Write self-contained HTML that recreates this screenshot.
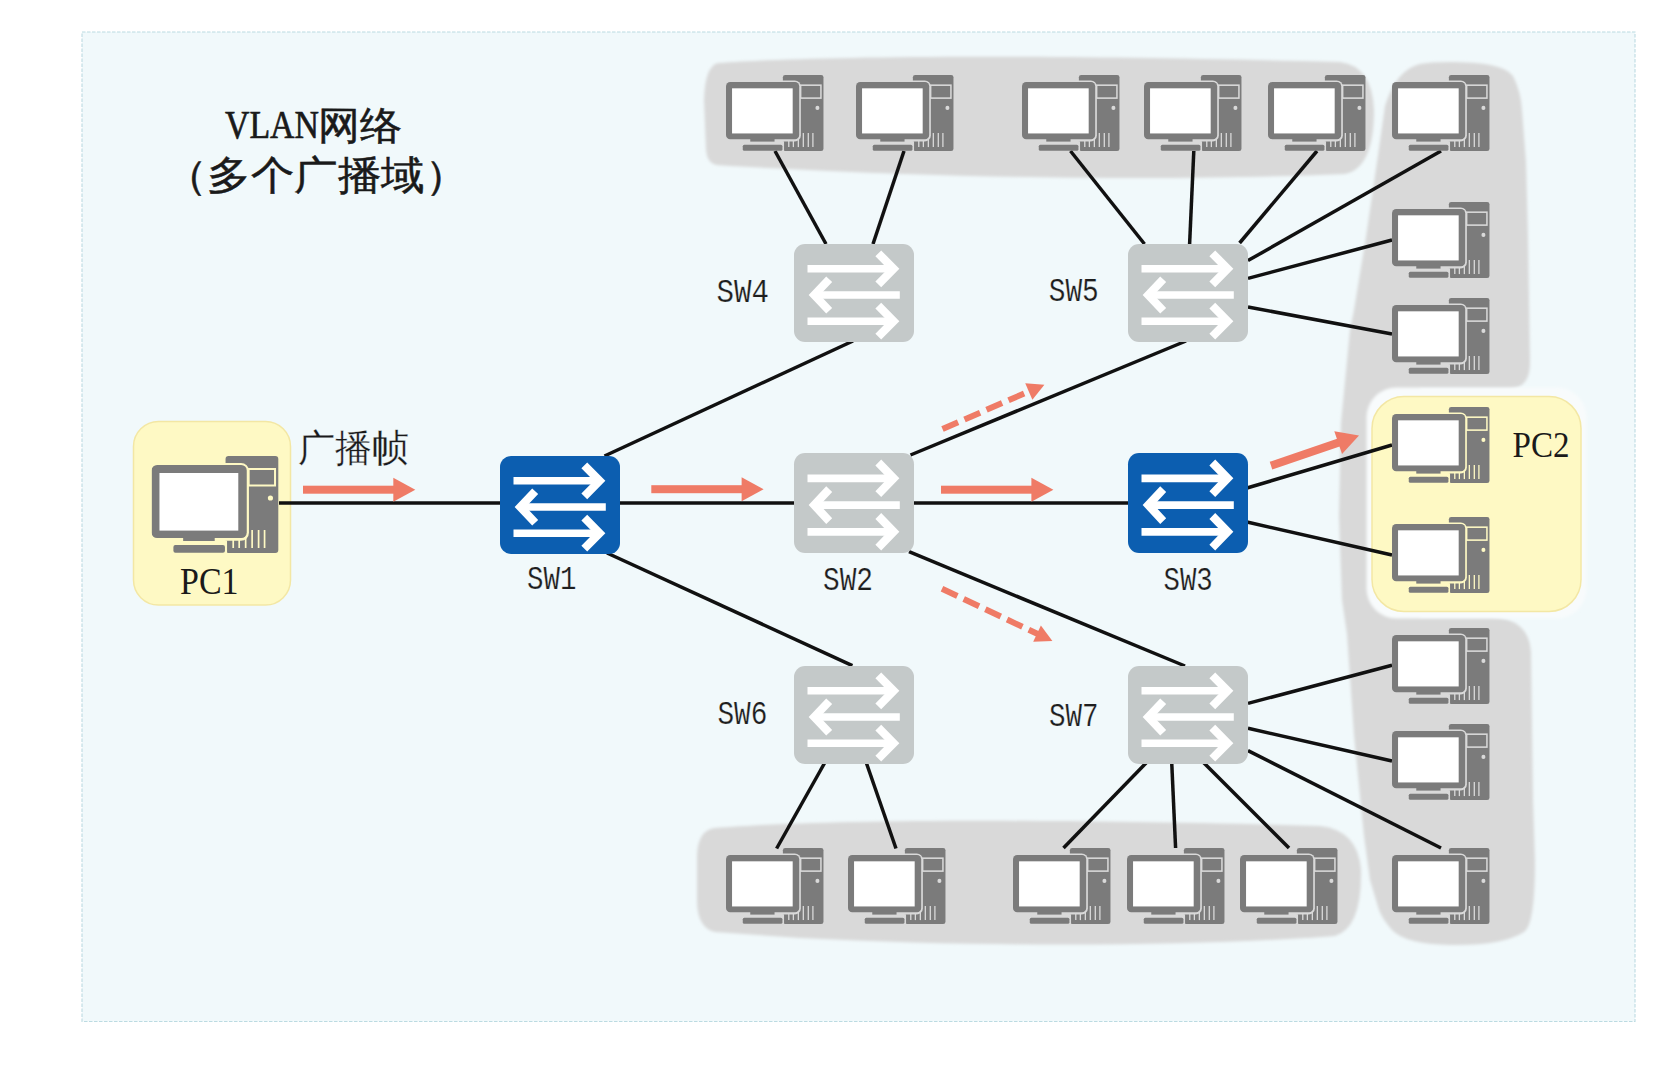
<!DOCTYPE html>
<html><head><meta charset="utf-8"><style>
html,body{margin:0;padding:0;background:#ffffff;}
svg{display:block;}
.lbl{font-family:"Liberation Mono",monospace;fill:#1e1e1e;stroke:#f1f9fb;stroke-width:0.2px;}
.ser{font-family:"Liberation Serif",serif;fill:#1a1a1a;}
</style></head><body>
<svg width="1667" height="1067" viewBox="0 0 1667 1067">
<defs>
<filter id="bl" x="-5%" y="-5%" width="110%" height="110%"><feGaussianBlur stdDeviation="1.6"/></filter>
<mask id="twm" maskUnits="userSpaceOnUse" x="0" y="0" width="128" height="97">
 <rect x="0" y="0" width="128" height="97" fill="#fff"/>
 <rect x="-2" y="7" width="99.8" height="77.8" rx="8" fill="#000"/>
 <rect x="18" y="84.5" width="57.8" height="14" fill="#000"/>
 <rect x="97.5" y="13" width="26.5" height="16.5" fill="none" stroke="#000" stroke-width="2"/>
 <circle cx="119.4" cy="42" r="2.6" fill="#000"/>
 <g stroke="#000" stroke-width="1.7">
  <line x1="82" y1="74" x2="82" y2="92"/>
  <line x1="88" y1="74" x2="88" y2="92"/>
  <line x1="94.5" y1="74" x2="94.5" y2="92"/>
  <line x1="101" y1="74" x2="101" y2="92"/>
  <line x1="107.5" y1="74" x2="107.5" y2="92"/>
  <line x1="113.5" y1="74" x2="113.5" y2="92"/>
 </g>
</mask>
<symbol id="pc" viewBox="0 0 128 97" preserveAspectRatio="none">
 <rect x="74.3" y="0" width="53" height="97" rx="3" fill="#7b7b7b" mask="url(#twm)"/>
 <rect x="0" y="9" width="95.6" height="73" rx="5.5" fill="#7b7b7b"/>
 <rect x="7.9" y="17" width="79.2" height="57.6" fill="#ffffff"/>
 <rect x="31.7" y="81" width="31.7" height="4" fill="#7b7b7b"/>
 <rect x="21.9" y="89" width="51.8" height="7.8" rx="2" fill="#7b7b7b"/>
</symbol>
<g id="arr" fill="none" stroke="#ffffff">
 <line x1="13.5" y1="24.8" x2="100" y2="24.8" stroke-width="7.6"/>
 <polyline points="84.3,9.3 99.6,24.8 84.3,40.3" stroke-width="8.2"/>
 <line x1="20" y1="51" x2="105.8" y2="51" stroke-width="7.6"/>
 <polyline points="35.2,35.3 20.3,51 35.2,66.7" stroke-width="8.2"/>
 <line x1="13.5" y1="77.2" x2="100" y2="77.2" stroke-width="7.6"/>
 <polyline points="84.3,61.7 99.6,77.2 84.3,92.7" stroke-width="8.2"/>
</g>
</defs>
<rect x="82" y="32" width="1553" height="989.5" fill="#f1f9fb" stroke="#bcdbe2" stroke-width="1.1" stroke-dasharray="3.5 1.5"/>

<g fill="#d9d9d9" filter="url(#bl)">
<path d="M718,63 C800,57 1000,53 1340,62 Q1372,66 1374,110 Q1374,168 1345,174 C1200,180 1000,181 730,166 L716,165 Q707,163 706,150 L704,100 Q705,66 718,63 Z"/>
<path d="M1448,62 C1485,62 1505,66 1513,76 Q1521,92 1522,110 L1526,162 L1528,237 L1530,360 Q1531,388 1509,389 L1420,389 L1420,617 L1492,617 Q1529,619 1531,652 L1533,800 L1535,862 Q1535,925 1524,932 Q1502,946 1450,945 Q1405,944 1392,930 Q1383,920 1379,910 L1370,880 L1364,836 L1354,735 L1347,634 L1342,600 L1339,516 L1341,423 L1350,330 L1354,310 L1366,237 L1377,162 L1385,106 Q1396,70 1420,64 Q1430,62 1448,62 Z"/>
<path d="M715,828 C800,821 1000,817 1320,826 Q1358,830 1361,870 Q1362,928 1335,936 C1200,946 1000,948 800,938 L715,932 Q697,928 697,900 L697,855 Q698,830 715,828 Z"/>
</g>
<rect x="1366.5" y="387.5" width="220" height="231" rx="30" fill="#f8fbfc" filter="url(#bl)"/>
<rect x="133.5" y="421.5" width="157" height="183.5" rx="25" fill="#fef9c4" stroke="#f3e7a4" stroke-width="1.5"/>
<rect x="1372" y="396.5" width="209" height="215" rx="32" fill="#fef9c4" stroke="#f3e7a4" stroke-width="1.5"/>
<g stroke="#111111" stroke-width="3.5">
<line x1="279" y1="503" x2="1128" y2="503"/>
<line x1="604.5" y1="456" x2="853" y2="341"/>
<line x1="607" y1="553" x2="852.4" y2="665.6"/>
<line x1="910.5" y1="455" x2="1186" y2="341"/>
<line x1="909" y1="551.7" x2="1185" y2="666"/>
<line x1="826" y1="244" x2="775" y2="151"/>
<line x1="873" y1="244" x2="904" y2="151"/>
<line x1="1144.5" y1="244" x2="1070.5" y2="151"/>
<line x1="1189.6" y1="244" x2="1193.8" y2="151"/>
<line x1="1239.6" y1="243" x2="1317" y2="151"/>
<line x1="1248" y1="260.6" x2="1441" y2="151"/>
<line x1="1248" y1="278.4" x2="1392" y2="240"/>
<line x1="1248" y1="307" x2="1392" y2="334"/>
<line x1="1247" y1="488" x2="1392" y2="445"/>
<line x1="1247" y1="522" x2="1392" y2="555"/>
<line x1="824.6" y1="763" x2="776.6" y2="848.5"/>
<line x1="866.4" y1="763" x2="896" y2="848.5"/>
<line x1="1147" y1="762" x2="1063.5" y2="848"/>
<line x1="1171.7" y1="762" x2="1175.6" y2="848"/>
<line x1="1203" y1="762" x2="1289" y2="848"/>
<line x1="1248" y1="703.4" x2="1392" y2="665.3"/>
<line x1="1248" y1="728.3" x2="1392" y2="761"/>
<line x1="1248" y1="750.6" x2="1441" y2="848"/>
</g>
<g transform="translate(500,456) scale(1,1.0000)"><rect width="120" height="98" rx="11" fill="#0c5eb0"/><use href="#arr"/></g>
<g transform="translate(794,453) scale(1,1.0204)"><rect width="120" height="98" rx="11" fill="#c4c9c9"/><use href="#arr"/></g>
<g transform="translate(1128,453) scale(1,1.0204)"><rect width="120" height="98" rx="11" fill="#0c5eb0"/><use href="#arr"/></g>
<g transform="translate(794,244) scale(1,1.0000)"><rect width="120" height="98" rx="11" fill="#c4c9c9"/><use href="#arr"/></g>
<g transform="translate(1128,244) scale(1,1.0000)"><rect width="120" height="98" rx="11" fill="#c4c9c9"/><use href="#arr"/></g>
<g transform="translate(794,666) scale(1,1.0000)"><rect width="120" height="98" rx="11" fill="#c4c9c9"/><use href="#arr"/></g>
<g transform="translate(1128,666) scale(1,1.0000)"><rect width="120" height="98" rx="11" fill="#c4c9c9"/><use href="#arr"/></g>
<use href="#pc" x="151.6" y="456" width="127.4" height="97"/>
<use href="#pc" x="726" y="75" width="98" height="76"/>
<use href="#pc" x="856" y="75" width="98" height="76"/>
<use href="#pc" x="1022" y="75" width="98" height="76"/>
<use href="#pc" x="1144" y="75" width="98" height="76"/>
<use href="#pc" x="1268" y="75" width="98" height="76"/>
<use href="#pc" x="1392" y="75" width="98" height="76"/>
<use href="#pc" x="1392" y="202" width="98" height="76"/>
<use href="#pc" x="1392" y="298" width="98" height="76"/>
<use href="#pc" x="1392" y="407" width="98" height="76"/>
<use href="#pc" x="1392" y="517" width="98" height="76"/>
<use href="#pc" x="1392" y="628" width="98" height="76"/>
<use href="#pc" x="1392" y="724" width="98" height="76"/>
<use href="#pc" x="1392" y="848" width="98" height="76"/>
<use href="#pc" x="726" y="848" width="98" height="76"/>
<use href="#pc" x="848" y="848" width="98" height="76"/>
<use href="#pc" x="1013" y="848" width="98" height="76"/>
<use href="#pc" x="1127" y="848" width="98" height="76"/>
<use href="#pc" x="1240" y="848" width="98" height="76"/>
<g transform="translate(303,489.7) rotate(0.000)"><rect x="0" y="-4.0" width="91.30000000000001" height="8" fill="#ef7b66"/><path d="M90.30000000000001,-12 L112.30000000000001,0 L90.30000000000001,12 Z" fill="#ef7b66"/></g>
<g transform="translate(651.3,489.2) rotate(0.000)"><rect x="0" y="-4.0" width="91.30000000000007" height="8" fill="#ef7b66"/><path d="M90.30000000000007,-12 L112.30000000000007,0 L90.30000000000007,12 Z" fill="#ef7b66"/></g>
<g transform="translate(941,489.7) rotate(0.000)"><rect x="0" y="-4.0" width="91.40000000000009" height="8" fill="#ef7b66"/><path d="M90.40000000000009,-12 L112.40000000000009,0 L90.40000000000009,12 Z" fill="#ef7b66"/></g>
<g transform="translate(1271,465.6) rotate(-18.825)"><rect x="0" y="-4.0" width="71.97311439335567" height="8" fill="#ef7b66"/><path d="M70.97311439335567,-12 L92.97311439335567,0 L70.97311439335567,12 Z" fill="#ef7b66"/></g>
<g transform="translate(942.5,429) rotate(-23.497)"><line x1="0" y1="0" x2="96.11300553940578" y2="0" stroke="#ef7b66" stroke-width="6" stroke-dasharray="17 7"/><path d="M94.11300553940578,-9 L111.11300553940578,0 L94.11300553940578,9 Z" fill="#ef7b66"/></g>
<g transform="translate(942,588.7) rotate(25.348)"><line x1="0" y1="0" x2="107.16157333629923" y2="0" stroke="#ef7b66" stroke-width="6" stroke-dasharray="17 7"/><path d="M105.16157333629923,-9 L122.16157333629923,0 L105.16157333629923,9 Z" fill="#ef7b66"/></g>
<text class="lbl" x="527" y="589" font-size="33" textLength="49.39999999999998" lengthAdjust="spacingAndGlyphs">SW1</text>
<text class="lbl" x="823" y="590" font-size="33" textLength="50" lengthAdjust="spacingAndGlyphs">SW2</text>
<text class="lbl" x="1163.5" y="590" font-size="33" textLength="49.200000000000045" lengthAdjust="spacingAndGlyphs">SW3</text>
<text class="lbl" x="716.5" y="302" font-size="33" textLength="52.5" lengthAdjust="spacingAndGlyphs">SW4</text>
<text class="lbl" x="1048.7" y="301" font-size="33" textLength="50.09999999999991" lengthAdjust="spacingAndGlyphs">SW5</text>
<text class="lbl" x="717.4" y="724.4" font-size="33" textLength="49.89999999999998" lengthAdjust="spacingAndGlyphs">SW6</text>
<text class="lbl" x="1049" y="725.7" font-size="33" textLength="49.59999999999991" lengthAdjust="spacingAndGlyphs">SW7</text>
<text class="ser" x="180" y="594" font-size="38" textLength="58.5" lengthAdjust="spacingAndGlyphs">PC1</text>
<text class="ser" x="1512.5" y="456.8" font-size="35" textLength="57" lengthAdjust="spacingAndGlyphs">PC2</text>
<text class="ser" x="298" y="461" font-size="38" textLength="111" lengthAdjust="spacingAndGlyphs" fill="#2a2a2a" stroke="#f1f9fb" stroke-width="0.3">广播帧</text>
<text class="ser" x="225" y="137.5" font-size="40" textLength="94" lengthAdjust="spacingAndGlyphs" stroke="#1a1a1a" stroke-width="0.7">VLAN</text>
<text class="ser" x="318" y="139" font-size="39" textLength="84" lengthAdjust="spacingAndGlyphs" stroke="#1a1a1a" stroke-width="0.5">网络</text>
<text class="ser" x="164" y="189" font-size="40" textLength="304" lengthAdjust="spacingAndGlyphs" stroke="#1a1a1a" stroke-width="0.5">（多个广播域）</text>
</svg></body></html>
